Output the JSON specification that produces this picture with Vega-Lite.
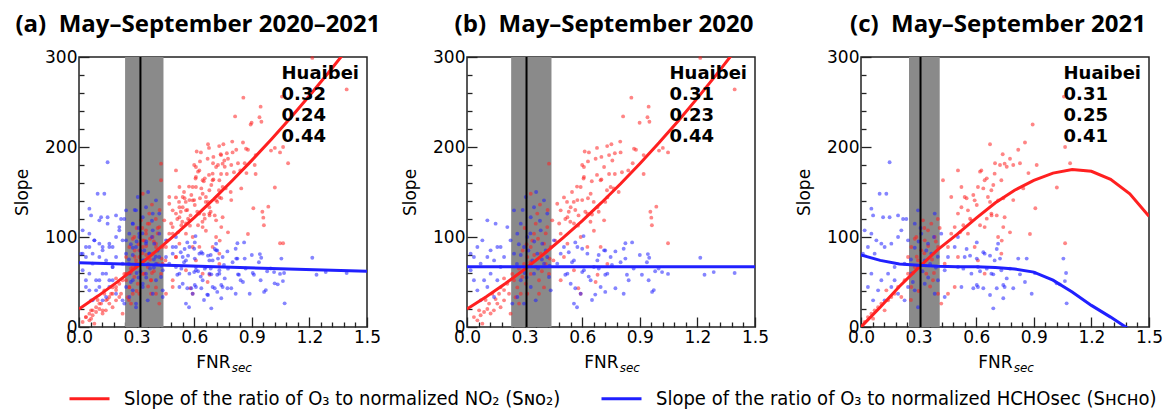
{
"$schema": "https://vega.github.io/schema/vega-lite/v6.json",
"padding": {"left": 12, "top": 12, "right": 2, "bottom": 2},
"datasets": {
"refs": [
{"p":"a","lo":0.24,"hi":0.44,"mid":0.32,"note":"Huaibei\n0.32\n0.24\n0.44"},
{"p":"b","lo":0.23,"hi":0.44,"mid":0.31,"note":"Huaibei\n0.31\n0.23\n0.44"},
{"p":"c","lo":0.25,"hi":0.41,"mid":0.31,"note":"Huaibei\n0.31\n0.25\n0.41"}
],
"fits": [
{"p":"a","s":"NO2","fnr":0,"slope":20},{"p":"a","s":"NO2","fnr":0.1,"slope":34.6},{"p":"a","s":"NO2","fnr":0.2,"slope":50.1},{"p":"a","s":"NO2","fnr":0.3,"slope":66.6},{"p":"a","s":"NO2","fnr":0.4,"slope":84},{"p":"a","s":"NO2","fnr":0.5,"slope":102.4},{"p":"a","s":"NO2","fnr":0.6,"slope":121.6},{"p":"a","s":"NO2","fnr":0.7,"slope":141.8},{"p":"a","s":"NO2","fnr":0.8,"slope":163},{"p":"a","s":"NO2","fnr":0.9,"slope":185.1},{"p":"a","s":"NO2","fnr":1.0,"slope":208.1},{"p":"a","s":"NO2","fnr":1.1,"slope":232},{"p":"a","s":"NO2","fnr":1.2,"slope":257},{"p":"a","s":"NO2","fnr":1.3,"slope":282.8},{"p":"a","s":"NO2","fnr":1.4,"slope":309.5},
{"p":"a","s":"HCHO","fnr":0,"slope":71.5},{"p":"a","s":"HCHO","fnr":0.5,"slope":68.3},{"p":"a","s":"HCHO","fnr":1.0,"slope":65.1},{"p":"a","s":"HCHO","fnr":1.5,"slope":62},
{"p":"b","s":"NO2","fnr":0,"slope":20},{"p":"b","s":"NO2","fnr":0.1,"slope":33.7},{"p":"b","s":"NO2","fnr":0.2,"slope":48.4},{"p":"b","s":"NO2","fnr":0.3,"slope":64.2},{"p":"b","s":"NO2","fnr":0.4,"slope":81.1},{"p":"b","s":"NO2","fnr":0.5,"slope":99},{"p":"b","s":"NO2","fnr":0.6,"slope":118},{"p":"b","s":"NO2","fnr":0.7,"slope":138.1},{"p":"b","s":"NO2","fnr":0.8,"slope":159.2},{"p":"b","s":"NO2","fnr":0.9,"slope":181.4},{"p":"b","s":"NO2","fnr":1.0,"slope":204.6},{"p":"b","s":"NO2","fnr":1.1,"slope":228.9},{"p":"b","s":"NO2","fnr":1.2,"slope":254.3},{"p":"b","s":"NO2","fnr":1.3,"slope":280.7},{"p":"b","s":"NO2","fnr":1.4,"slope":308.2},
{"p":"b","s":"HCHO","fnr":0,"slope":67},{"p":"b","s":"HCHO","fnr":0.75,"slope":67},{"p":"b","s":"HCHO","fnr":1.5,"slope":67},
{"p":"c","s":"NO2","fnr":0,"slope":0},{"p":"c","s":"NO2","fnr":0.1,"slope":22},{"p":"c","s":"NO2","fnr":0.2,"slope":45},{"p":"c","s":"NO2","fnr":0.3,"slope":66},{"p":"c","s":"NO2","fnr":0.4,"slope":86},{"p":"c","s":"NO2","fnr":0.5,"slope":103},{"p":"c","s":"NO2","fnr":0.6,"slope":121},{"p":"c","s":"NO2","fnr":0.7,"slope":138},{"p":"c","s":"NO2","fnr":0.8,"slope":152},{"p":"c","s":"NO2","fnr":0.9,"slope":163},{"p":"c","s":"NO2","fnr":1.0,"slope":171},{"p":"c","s":"NO2","fnr":1.1,"slope":175},{"p":"c","s":"NO2","fnr":1.2,"slope":173},{"p":"c","s":"NO2","fnr":1.3,"slope":164},{"p":"c","s":"NO2","fnr":1.4,"slope":148},{"p":"c","s":"NO2","fnr":1.5,"slope":123},
{"p":"c","s":"HCHO","fnr":0,"slope":80},{"p":"c","s":"HCHO","fnr":0.1,"slope":74},{"p":"c","s":"HCHO","fnr":0.2,"slope":70},{"p":"c","s":"HCHO","fnr":0.3,"slope":68.5},{"p":"c","s":"HCHO","fnr":0.4,"slope":67.5},{"p":"c","s":"HCHO","fnr":0.5,"slope":67},{"p":"c","s":"HCHO","fnr":0.6,"slope":67},{"p":"c","s":"HCHO","fnr":0.7,"slope":66},{"p":"c","s":"HCHO","fnr":0.8,"slope":64.5},{"p":"c","s":"HCHO","fnr":0.9,"slope":61},{"p":"c","s":"HCHO","fnr":1.0,"slope":52},{"p":"c","s":"HCHO","fnr":1.1,"slope":39},{"p":"c","s":"HCHO","fnr":1.2,"slope":24},{"p":"c","s":"HCHO","fnr":1.3,"slope":11},{"p":"c","s":"HCHO","fnr":1.4,"slope":-3}
],
"pts": [
{"yr":2020,"s":"NO2","fnr":0.054,"slope":7.4},{"yr":2020,"s":"NO2","fnr":0.071,"slope":13},{"yr":2020,"s":"NO2","fnr":0.089,"slope":16.7},{"yr":2020,"s":"NO2","fnr":0.063,"slope":18.5},{"yr":2020,"s":"NO2","fnr":0.036,"slope":11},{"yr":2020,"s":"NO2","fnr":0.106,"slope":20},{"yr":2020,"s":"NO2","fnr":0.123,"slope":15},{"yr":2020,"s":"NO2","fnr":0.08,"slope":3.7},{"yr":2020,"s":"NO2","fnr":0.14,"slope":18.5},{"yr":2020,"s":"NO2","fnr":0.158,"slope":26},{"yr":2020,"s":"NO2","fnr":0.115,"slope":26},{"yr":2020,"s":"NO2","fnr":0.097,"slope":30},{"yr":2020,"s":"NO2","fnr":0.149,"slope":31},{"yr":2020,"s":"NO2","fnr":0.167,"slope":37},{"yr":2020,"s":"NO2","fnr":0.175,"slope":44},{"yr":2020,"s":"NO2","fnr":0.193,"slope":41},{"yr":2020,"s":"NO2","fnr":0.132,"slope":37},{"yr":2020,"s":"NO2","fnr":0.21,"slope":48},{"yr":2020,"s":"NO2","fnr":0.193,"slope":54},{"yr":2020,"s":"NO2","fnr":0.193,"slope":29.6},{"yr":2020,"s":"NO2","fnr":0.219,"slope":37},{"yr":2020,"s":"NO2","fnr":0.175,"slope":22},{"yr":2020,"s":"NO2","fnr":0.227,"slope":14.8},{"yr":2020,"s":"NO2","fnr":0.28,"slope":37},{"yr":2020,"s":"NO2","fnr":0.306,"slope":48},{"yr":2020,"s":"NO2","fnr":0.332,"slope":59},{"yr":2020,"s":"NO2","fnr":0.358,"slope":66.7},{"yr":2020,"s":"NO2","fnr":0.375,"slope":51.9},{"yr":2020,"s":"NO2","fnr":0.314,"slope":37},
{"yr":2020,"s":"NO2","fnr":0.245,"slope":51.9},{"yr":2020,"s":"NO2","fnr":0.236,"slope":59},{"yr":2020,"s":"NO2","fnr":0.262,"slope":44},{"yr":2020,"s":"NO2","fnr":0.253,"slope":33},{"yr":2020,"s":"NO2","fnr":0.271,"slope":26},{"yr":2020,"s":"NO2","fnr":0.288,"slope":55.6},{"yr":2020,"s":"NO2","fnr":0.297,"slope":70},{"yr":2020,"s":"NO2","fnr":0.314,"slope":77.8},{"yr":2020,"s":"NO2","fnr":0.332,"slope":88.9},{"yr":2020,"s":"NO2","fnr":0.34,"slope":96},{"yr":2020,"s":"NO2","fnr":0.349,"slope":103.7},{"yr":2020,"s":"NO2","fnr":0.358,"slope":114.8},{"yr":2020,"s":"NO2","fnr":0.366,"slope":126},{"yr":2020,"s":"NO2","fnr":0.384,"slope":81.5},{"yr":2020,"s":"NO2","fnr":0.401,"slope":92.6},{"yr":2020,"s":"NO2","fnr":0.418,"slope":111},{"yr":2020,"s":"NO2","fnr":0.41,"slope":70},{"yr":2020,"s":"NO2","fnr":0.427,"slope":59},{"yr":2020,"s":"NO2","fnr":0.401,"slope":44},{"yr":2020,"s":"NO2","fnr":0.375,"slope":37},{"yr":2020,"s":"NO2","fnr":0.436,"slope":89},{"yr":2020,"s":"NO2","fnr":0.444,"slope":118.5},{"yr":2020,"s":"NO2","fnr":0.332,"slope":148},{"yr":2020,"s":"NO2","fnr":0.427,"slope":181.5},
{"yr":2020,"s":"NO2","fnr":0.27,"slope":65},{"yr":2020,"s":"NO2","fnr":0.29,"slope":85},{"yr":2020,"s":"NO2","fnr":0.31,"slope":92},{"yr":2020,"s":"NO2","fnr":0.33,"slope":72},{"yr":2020,"s":"NO2","fnr":0.35,"slope":80},{"yr":2020,"s":"NO2","fnr":0.37,"slope":98},{"yr":2020,"s":"NO2","fnr":0.39,"slope":62},{"yr":2020,"s":"NO2","fnr":0.41,"slope":104},{"yr":2020,"s":"NO2","fnr":0.43,"slope":76},{"yr":2020,"s":"NO2","fnr":0.3,"slope":110},{"yr":2020,"s":"NO2","fnr":0.38,"slope":136},{"yr":2020,"s":"NO2","fnr":0.42,"slope":130},{"yr":2020,"s":"NO2","fnr":0.46,"slope":96},{"yr":2020,"s":"NO2","fnr":0.48,"slope":115},{"yr":2020,"s":"NO2","fnr":0.45,"slope":74},
{"yr":2020,"s":"NO2","fnr":0.47,"slope":137},{"yr":2020,"s":"NO2","fnr":0.488,"slope":129.6},{"yr":2020,"s":"NO2","fnr":0.505,"slope":144},{"yr":2020,"s":"NO2","fnr":0.523,"slope":122},{"yr":2020,"s":"NO2","fnr":0.54,"slope":133},{"yr":2020,"s":"NO2","fnr":0.557,"slope":115},{"yr":2020,"s":"NO2","fnr":0.575,"slope":141},{"yr":2020,"s":"NO2","fnr":0.592,"slope":155.6},{"yr":2020,"s":"NO2","fnr":0.609,"slope":166.7},{"yr":2020,"s":"NO2","fnr":0.627,"slope":126},{"yr":2020,"s":"NO2","fnr":0.644,"slope":148},{"yr":2020,"s":"NO2","fnr":0.661,"slope":107},{"yr":2020,"s":"NO2","fnr":0.679,"slope":133},{"yr":2020,"s":"NO2","fnr":0.696,"slope":163},{"yr":2020,"s":"NO2","fnr":0.714,"slope":118.5},{"yr":2020,"s":"NO2","fnr":0.731,"slope":144},{"yr":2020,"s":"NO2","fnr":0.748,"slope":155.6},{"yr":2020,"s":"NO2","fnr":0.757,"slope":185},{"yr":2020,"s":"NO2","fnr":0.635,"slope":194},{"yr":2020,"s":"NO2","fnr":0.488,"slope":103.7},{"yr":2020,"s":"NO2","fnr":0.523,"slope":92.6},{"yr":2020,"s":"NO2","fnr":0.592,"slope":100},{"yr":2020,"s":"NO2","fnr":0.505,"slope":77.8},{"yr":2020,"s":"NO2","fnr":0.557,"slope":63},{"yr":2020,"s":"NO2","fnr":0.627,"slope":89},{"yr":2020,"s":"NO2","fnr":0.696,"slope":89},{"yr":2020,"s":"NO2","fnr":0.731,"slope":70},{"yr":2020,"s":"NO2","fnr":0.488,"slope":52},{"yr":2020,"s":"NO2","fnr":0.592,"slope":37},{"yr":2020,"s":"NO2","fnr":0.609,"slope":177.8},{"yr":2020,"s":"NO2","fnr":0.714,"slope":177.8},
{"yr":2020,"s":"NO2","fnr":0.856,"slope":254.8},{"yr":2020,"s":"NO2","fnr":0.946,"slope":244.8},{"yr":2020,"s":"NO2","fnr":0.813,"slope":234},{"yr":2020,"s":"NO2","fnr":0.899,"slope":227},{"yr":2020,"s":"NO2","fnr":0.95,"slope":228},{"yr":2020,"s":"NO2","fnr":0.94,"slope":233},{"yr":2020,"s":"NO2","fnr":1.215,"slope":299},{"yr":2020,"s":"NO2","fnr":1.394,"slope":264},{"yr":2020,"s":"NO2","fnr":0.677,"slope":199},{"yr":2020,"s":"NO2","fnr":0.73,"slope":201},{"yr":2020,"s":"NO2","fnr":0.752,"slope":203},{"yr":2020,"s":"NO2","fnr":0.798,"slope":206},{"yr":2020,"s":"NO2","fnr":0.613,"slope":195},{"yr":2020,"s":"NO2","fnr":0.87,"slope":198},{"yr":2020,"s":"NO2","fnr":0.88,"slope":197},{"yr":2020,"s":"NO2","fnr":1.0,"slope":196},{"yr":2020,"s":"NO2","fnr":1.02,"slope":199},{"yr":2020,"s":"NO2","fnr":1.047,"slope":194},{"yr":2020,"s":"NO2","fnr":0.92,"slope":191},{"yr":2020,"s":"NO2","fnr":0.863,"slope":182},{"yr":2020,"s":"NO2","fnr":0.8,"slope":194},{"yr":2020,"s":"NO2","fnr":0.77,"slope":193},{"yr":2020,"s":"NO2","fnr":0.74,"slope":191},{"yr":2020,"s":"NO2","fnr":0.67,"slope":187},{"yr":2020,"s":"NO2","fnr":0.7,"slope":189},{"yr":2020,"s":"NO2","fnr":0.63,"slope":184},{"yr":2020,"s":"NO2","fnr":0.6,"slope":180},{"yr":2020,"s":"NO2","fnr":0.74,"slope":170},{"yr":2020,"s":"NO2","fnr":0.77,"slope":170},{"yr":2020,"s":"NO2","fnr":0.807,"slope":172},{"yr":2020,"s":"NO2","fnr":0.84,"slope":174},{"yr":2020,"s":"NO2","fnr":0.677,"slope":169},{"yr":2020,"s":"NO2","fnr":0.7,"slope":164},{"yr":2020,"s":"NO2","fnr":0.65,"slope":162},{"yr":2020,"s":"NO2","fnr":0.92,"slope":170},{"yr":2020,"s":"NO2","fnr":0.607,"slope":165},{"yr":2020,"s":"NO2","fnr":0.573,"slope":156},{"yr":2020,"s":"NO2","fnr":0.547,"slope":150},{"yr":2020,"s":"NO2","fnr":0.521,"slope":139},{"yr":2020,"s":"NO2","fnr":0.556,"slope":139},{"yr":2020,"s":"NO2","fnr":0.6,"slope":141},{"yr":2020,"s":"NO2","fnr":0.63,"slope":143},{"yr":2020,"s":"NO2","fnr":0.66,"slope":139},{"yr":2020,"s":"NO2","fnr":0.729,"slope":152},{"yr":2020,"s":"NO2","fnr":0.764,"slope":154},{"yr":2020,"s":"NO2","fnr":0.79,"slope":150},{"yr":2020,"s":"NO2","fnr":0.72,"slope":139},{"yr":2020,"s":"NO2","fnr":0.564,"slope":130},{"yr":2020,"s":"NO2","fnr":0.53,"slope":128},{"yr":2020,"s":"NO2","fnr":0.616,"slope":128},{"yr":2020,"s":"NO2","fnr":0.581,"slope":124},{"yr":2020,"s":"NO2","fnr":0.651,"slope":125},{"yr":2020,"s":"NO2","fnr":0.686,"slope":128},{"yr":2020,"s":"NO2","fnr":0.512,"slope":120},{"yr":2020,"s":"NO2","fnr":0.538,"slope":117},{"yr":2020,"s":"NO2","fnr":0.578,"slope":112.6},{"yr":2020,"s":"NO2","fnr":0.643,"slope":117},{"yr":2020,"s":"NO2","fnr":0.96,"slope":121.5},{"yr":2020,"s":"NO2","fnr":0.963,"slope":113},{"yr":2020,"s":"NO2","fnr":0.986,"slope":133.7},{"yr":2020,"s":"NO2","fnr":0.955,"slope":128},{"yr":2020,"s":"NO2","fnr":1.047,"slope":93},{"yr":2020,"s":"NO2","fnr":0.58,"slope":43},{"yr":2020,"s":"NO2","fnr":0.67,"slope":50},{"yr":2020,"s":"NO2","fnr":0.68,"slope":58},
{"yr":2020,"s":"HCHO","fnr":0.019,"slope":63},{"yr":2020,"s":"HCHO","fnr":0.036,"slope":77.8},{"yr":2020,"s":"HCHO","fnr":0.054,"slope":88.9},{"yr":2020,"s":"HCHO","fnr":0.071,"slope":70.4},{"yr":2020,"s":"HCHO","fnr":0.08,"slope":96.3},{"yr":2020,"s":"HCHO","fnr":0.089,"slope":51.9},{"yr":2020,"s":"HCHO","fnr":0.106,"slope":77.8},{"yr":2020,"s":"HCHO","fnr":0.123,"slope":85.2},{"yr":2020,"s":"HCHO","fnr":0.123,"slope":59.3},{"yr":2020,"s":"HCHO","fnr":0.141,"slope":74},{"yr":2020,"s":"HCHO","fnr":0.149,"slope":114.8},{"yr":2020,"s":"HCHO","fnr":0.158,"slope":88.9},{"yr":2020,"s":"HCHO","fnr":0.106,"slope":118.5},{"yr":2020,"s":"HCHO","fnr":0.175,"slope":66.7},{"yr":2020,"s":"HCHO","fnr":0.193,"slope":77.8},{"yr":2020,"s":"HCHO","fnr":0.054,"slope":40.7},{"yr":2020,"s":"HCHO","fnr":0.071,"slope":29.6},{"yr":2020,"s":"HCHO","fnr":0.036,"slope":51.9},{"yr":2020,"s":"HCHO","fnr":0.019,"slope":81.5},{"yr":2020,"s":"HCHO","fnr":0.106,"slope":44.4},{"yr":2020,"s":"HCHO","fnr":0.141,"slope":33.3},{"yr":2020,"s":"HCHO","fnr":0.158,"slope":51.9},{"yr":2020,"s":"HCHO","fnr":0.175,"slope":88.9},{"yr":2020,"s":"HCHO","fnr":0.21,"slope":111},{"yr":2020,"s":"HCHO","fnr":0.227,"slope":96.3},{"yr":2020,"s":"HCHO","fnr":0.245,"slope":81.5},{"yr":2020,"s":"HCHO","fnr":0.262,"slope":103.7},{"yr":2020,"s":"HCHO","fnr":0.245,"slope":129.6},{"yr":2020,"s":"HCHO","fnr":0.28,"slope":114.8},{"yr":2020,"s":"HCHO","fnr":0.297,"slope":88.9},{"yr":2020,"s":"HCHO","fnr":0.306,"slope":144.4},{"yr":2020,"s":"HCHO","fnr":0.314,"slope":100},{"yr":2020,"s":"HCHO","fnr":0.332,"slope":122},{"yr":2020,"s":"HCHO","fnr":0.34,"slope":74},{"yr":2020,"s":"HCHO","fnr":0.349,"slope":59.3},{"yr":2020,"s":"HCHO","fnr":0.366,"slope":81.5},{"yr":2020,"s":"HCHO","fnr":0.332,"slope":44.4},{"yr":2020,"s":"HCHO","fnr":0.358,"slope":29.6},{"yr":2020,"s":"HCHO","fnr":0.384,"slope":107.4},{"yr":2020,"s":"HCHO","fnr":0.392,"slope":92.6},{"yr":2020,"s":"HCHO","fnr":0.401,"slope":70.4},{"yr":2020,"s":"HCHO","fnr":0.418,"slope":77.8},{"yr":2020,"s":"HCHO","fnr":0.427,"slope":55.6},{"yr":2020,"s":"HCHO","fnr":0.436,"slope":40.7},{"yr":2020,"s":"HCHO","fnr":0.453,"slope":96.3},{"yr":2020,"s":"HCHO","fnr":0.47,"slope":70.4},{"yr":2020,"s":"HCHO","fnr":0.488,"slope":81.5},{"yr":2020,"s":"HCHO","fnr":0.505,"slope":88.9},{"yr":2020,"s":"HCHO","fnr":0.523,"slope":59.3},{"yr":2020,"s":"HCHO","fnr":0.54,"slope":48.1},{"yr":2020,"s":"HCHO","fnr":0.557,"slope":74},{"yr":2020,"s":"HCHO","fnr":0.575,"slope":88.9},{"yr":2020,"s":"HCHO","fnr":0.592,"slope":37},{"yr":2020,"s":"HCHO","fnr":0.609,"slope":63},{"yr":2020,"s":"HCHO","fnr":0.627,"slope":81.5},{"yr":2020,"s":"HCHO","fnr":0.644,"slope":51.9},{"yr":2020,"s":"HCHO","fnr":0.661,"slope":66.7},{"yr":2020,"s":"HCHO","fnr":0.679,"slope":74},{"yr":2020,"s":"HCHO","fnr":0.696,"slope":44.4},{"yr":2020,"s":"HCHO","fnr":0.714,"slope":85.2},{"yr":2020,"s":"HCHO","fnr":0.731,"slope":59.3},{"yr":2020,"s":"HCHO","fnr":0.748,"slope":77.8},{"yr":2020,"s":"HCHO","fnr":0.418,"slope":126},{"yr":2020,"s":"HCHO","fnr":0.401,"slope":140.7},{"yr":2020,"s":"HCHO","fnr":0.349,"slope":133},{"yr":2020,"s":"HCHO","fnr":0.28,"slope":51.9},{"yr":2020,"s":"HCHO","fnr":0.262,"slope":33.3},{"yr":2020,"s":"HCHO","fnr":0.236,"slope":26},{"yr":2020,"s":"HCHO","fnr":0.297,"slope":26},{"yr":2020,"s":"HCHO","fnr":0.557,"slope":26},
{"yr":2020,"s":"HCHO","fnr":0.26,"slope":70},{"yr":2020,"s":"HCHO","fnr":0.28,"slope":80},{"yr":2020,"s":"HCHO","fnr":0.3,"slope":60},{"yr":2020,"s":"HCHO","fnr":0.32,"slope":85},{"yr":2020,"s":"HCHO","fnr":0.35,"slope":95},{"yr":2020,"s":"HCHO","fnr":0.37,"slope":65},{"yr":2020,"s":"HCHO","fnr":0.39,"slope":75},{"yr":2020,"s":"HCHO","fnr":0.41,"slope":85},{"yr":2020,"s":"HCHO","fnr":0.43,"slope":68},{"yr":2020,"s":"HCHO","fnr":0.27,"slope":92},{"yr":2020,"s":"HCHO","fnr":0.31,"slope":55},{"yr":2020,"s":"HCHO","fnr":0.33,"slope":104},{"yr":2020,"s":"HCHO","fnr":0.38,"slope":118},{"yr":2020,"s":"HCHO","fnr":0.29,"slope":130},{"yr":2020,"s":"HCHO","fnr":0.36,"slope":150},
{"yr":2020,"s":"HCHO","fnr":1.215,"slope":77},{"yr":2020,"s":"HCHO","fnr":1.237,"slope":58},{"yr":2020,"s":"HCHO","fnr":1.285,"slope":61},{"yr":2020,"s":"HCHO","fnr":1.394,"slope":60},{"yr":2020,"s":"HCHO","fnr":1.047,"slope":59},{"yr":2020,"s":"HCHO","fnr":1.016,"slope":61},{"yr":2020,"s":"HCHO","fnr":0.98,"slope":62},{"yr":2020,"s":"HCHO","fnr":0.998,"slope":65},{"yr":2020,"s":"HCHO","fnr":0.942,"slope":81},{"yr":2020,"s":"HCHO","fnr":0.949,"slope":77},{"yr":2020,"s":"HCHO","fnr":0.937,"slope":72},{"yr":2020,"s":"HCHO","fnr":0.9,"slope":80},{"yr":2020,"s":"HCHO","fnr":0.86,"slope":94},{"yr":2020,"s":"HCHO","fnr":0.816,"slope":87},{"yr":2020,"s":"HCHO","fnr":0.825,"slope":93},{"yr":2020,"s":"HCHO","fnr":0.773,"slope":84},{"yr":2020,"s":"HCHO","fnr":0.607,"slope":101},{"yr":2020,"s":"HCHO","fnr":0.564,"slope":94},{"yr":2020,"s":"HCHO","fnr":0.6,"slope":87},{"yr":2020,"s":"HCHO","fnr":0.53,"slope":83},{"yr":2020,"s":"HCHO","fnr":0.686,"slope":80},{"yr":2020,"s":"HCHO","fnr":0.72,"slope":85},{"yr":2020,"s":"HCHO","fnr":0.8,"slope":72},{"yr":2020,"s":"HCHO","fnr":0.825,"slope":76},{"yr":2020,"s":"HCHO","fnr":0.868,"slope":65},{"yr":2020,"s":"HCHO","fnr":0.946,"slope":52},{"yr":2020,"s":"HCHO","fnr":0.964,"slope":39},{"yr":2020,"s":"HCHO","fnr":0.973,"slope":41},{"yr":2020,"s":"HCHO","fnr":0.773,"slope":43},{"yr":2020,"s":"HCHO","fnr":0.816,"slope":37},{"yr":2020,"s":"HCHO","fnr":0.72,"slope":39},{"yr":2020,"s":"HCHO","fnr":0.668,"slope":36},{"yr":2020,"s":"HCHO","fnr":0.573,"slope":22},{"yr":2020,"s":"HCHO","fnr":0.651,"slope":30},{"yr":2020,"s":"HCHO","fnr":0.564,"slope":43},{"yr":2020,"s":"HCHO","fnr":0.72,"slope":58},{"yr":2020,"s":"HCHO","fnr":0.686,"slope":65},{"yr":2020,"s":"HCHO","fnr":0.755,"slope":69},{"yr":2020,"s":"HCHO","fnr":0.6,"slope":61},{"yr":2020,"s":"HCHO","fnr":0.547,"slope":72},{"yr":2020,"s":"HCHO","fnr":0.512,"slope":58},{"yr":2020,"s":"HCHO","fnr":0.634,"slope":56},{"yr":2020,"s":"HCHO","fnr":0.842,"slope":52},{"yr":2020,"s":"HCHO","fnr":0.911,"slope":58},{"yr":2020,"s":"HCHO","fnr":0.833,"slope":58},
{"yr":2021,"s":"NO2","fnr":0.019,"slope":5.6},{"yr":2021,"s":"NO2","fnr":0.036,"slope":11},{"yr":2021,"s":"NO2","fnr":0.054,"slope":14.8},{"yr":2021,"s":"NO2","fnr":0.071,"slope":18.5},{"yr":2021,"s":"NO2","fnr":0.089,"slope":22},{"yr":2021,"s":"NO2","fnr":0.063,"slope":9.3},{"yr":2021,"s":"NO2","fnr":0.106,"slope":26},{"yr":2021,"s":"NO2","fnr":0.123,"slope":18.5},{"yr":2021,"s":"NO2","fnr":0.141,"slope":29.6},{"yr":2021,"s":"NO2","fnr":0.158,"slope":33.3},{"yr":2021,"s":"NO2","fnr":0.175,"slope":37},{"yr":2021,"s":"NO2","fnr":0.132,"slope":40.7},{"yr":2021,"s":"NO2","fnr":0.193,"slope":44.4},{"yr":2021,"s":"NO2","fnr":0.21,"slope":33.3},{"yr":2021,"s":"NO2","fnr":0.227,"slope":51.9},{"yr":2021,"s":"NO2","fnr":0.245,"slope":59.3},{"yr":2021,"s":"NO2","fnr":0.262,"slope":44.4},{"yr":2021,"s":"NO2","fnr":0.28,"slope":66.7},{"yr":2021,"s":"NO2","fnr":0.297,"slope":74},{"yr":2021,"s":"NO2","fnr":0.314,"slope":85.2},{"yr":2021,"s":"NO2","fnr":0.332,"slope":96.3},{"yr":2021,"s":"NO2","fnr":0.349,"slope":107.4},{"yr":2021,"s":"NO2","fnr":0.366,"slope":114.8},{"yr":2021,"s":"NO2","fnr":0.384,"slope":100},{"yr":2021,"s":"NO2","fnr":0.401,"slope":88.9},{"yr":2021,"s":"NO2","fnr":0.262,"slope":88.9},{"yr":2021,"s":"NO2","fnr":0.245,"slope":77.8},{"yr":2021,"s":"NO2","fnr":0.288,"slope":100},{"yr":2021,"s":"NO2","fnr":0.323,"slope":118.5},{"yr":2021,"s":"NO2","fnr":0.34,"slope":59.3},{"yr":2021,"s":"NO2","fnr":0.375,"slope":51.9},{"yr":2021,"s":"NO2","fnr":0.401,"slope":37},{"yr":2021,"s":"NO2","fnr":0.436,"slope":70.4},{"yr":2021,"s":"NO2","fnr":0.453,"slope":88.9},{"yr":2021,"s":"NO2","fnr":0.47,"slope":103.7},{"yr":2021,"s":"NO2","fnr":0.488,"slope":111},{"yr":2021,"s":"NO2","fnr":0.505,"slope":126},{"yr":2021,"s":"NO2","fnr":0.523,"slope":133},{"yr":2021,"s":"NO2","fnr":0.54,"slope":144.4},{"yr":2021,"s":"NO2","fnr":0.557,"slope":129.6},{"yr":2021,"s":"NO2","fnr":0.575,"slope":118.5},{"yr":2021,"s":"NO2","fnr":0.592,"slope":140.7},{"yr":2021,"s":"NO2","fnr":0.609,"slope":155.6},{"yr":2021,"s":"NO2","fnr":0.627,"slope":174},{"yr":2021,"s":"NO2","fnr":0.644,"slope":163},{"yr":2021,"s":"NO2","fnr":0.661,"slope":144.4},{"yr":2021,"s":"NO2","fnr":0.679,"slope":151.9},{"yr":2021,"s":"NO2","fnr":0.696,"slope":170.4},{"yr":2021,"s":"NO2","fnr":0.714,"slope":140.7},{"yr":2021,"s":"NO2","fnr":0.731,"slope":163},{"yr":2021,"s":"NO2","fnr":0.748,"slope":181.5},{"yr":2021,"s":"NO2","fnr":0.505,"slope":174},{"yr":2021,"s":"NO2","fnr":0.523,"slope":155.6},{"yr":2021,"s":"NO2","fnr":0.427,"slope":163},{"yr":2021,"s":"NO2","fnr":0.47,"slope":144.4},{"yr":2021,"s":"NO2","fnr":0.557,"slope":103.7},{"yr":2021,"s":"NO2","fnr":0.592,"slope":88.9},{"yr":2021,"s":"NO2","fnr":0.644,"slope":111},{"yr":2021,"s":"NO2","fnr":0.679,"slope":126},{"yr":2021,"s":"NO2","fnr":0.714,"slope":100},{"yr":2021,"s":"NO2","fnr":0.748,"slope":122},{"yr":2021,"s":"NO2","fnr":0.609,"slope":74},{"yr":2021,"s":"NO2","fnr":0.731,"slope":81.5},{"yr":2021,"s":"NO2","fnr":0.644,"slope":59.3},{"yr":2021,"s":"NO2","fnr":0.505,"slope":77.8},{"yr":2021,"s":"NO2","fnr":0.488,"slope":44.4},{"yr":2021,"s":"NO2","fnr":0.418,"slope":26},{"yr":2021,"s":"NO2","fnr":0.453,"slope":37},
{"yr":2021,"s":"NO2","fnr":0.27,"slope":60},{"yr":2021,"s":"NO2","fnr":0.29,"slope":78},{"yr":2021,"s":"NO2","fnr":0.31,"slope":70},{"yr":2021,"s":"NO2","fnr":0.33,"slope":82},{"yr":2021,"s":"NO2","fnr":0.35,"slope":90},{"yr":2021,"s":"NO2","fnr":0.37,"slope":75},{"yr":2021,"s":"NO2","fnr":0.39,"slope":95},{"yr":2021,"s":"NO2","fnr":0.41,"slope":110},{"yr":2021,"s":"NO2","fnr":0.3,"slope":40},{"yr":2021,"s":"NO2","fnr":0.36,"slope":45},{"yr":2021,"s":"NO2","fnr":0.26,"slope":30},{"yr":2021,"s":"NO2","fnr":0.33,"slope":110},{"yr":2021,"s":"NO2","fnr":0.28,"slope":98},{"yr":2021,"s":"NO2","fnr":0.4,"slope":120},{"yr":2021,"s":"NO2","fnr":0.38,"slope":60},
{"yr":2021,"s":"NO2","fnr":0.894,"slope":225},{"yr":2021,"s":"NO2","fnr":0.672,"slope":203},{"yr":2021,"s":"NO2","fnr":0.854,"slope":205},{"yr":2021,"s":"NO2","fnr":0.738,"slope":192},{"yr":2021,"s":"NO2","fnr":0.819,"slope":197},{"yr":2021,"s":"NO2","fnr":0.698,"slope":182},{"yr":2021,"s":"NO2","fnr":0.724,"slope":180},{"yr":2021,"s":"NO2","fnr":0.759,"slope":178},{"yr":2021,"s":"NO2","fnr":0.776,"slope":187},{"yr":2021,"s":"NO2","fnr":0.793,"slope":180},{"yr":2021,"s":"NO2","fnr":0.828,"slope":182},{"yr":2021,"s":"NO2","fnr":0.872,"slope":171},{"yr":2021,"s":"NO2","fnr":0.915,"slope":180},{"yr":2021,"s":"NO2","fnr":1.089,"slope":182},{"yr":2021,"s":"NO2","fnr":1.057,"slope":256},{"yr":2021,"s":"NO2","fnr":1.063,"slope":200},{"yr":2021,"s":"NO2","fnr":1.02,"slope":155},{"yr":2021,"s":"NO2","fnr":0.908,"slope":132},{"yr":2021,"s":"NO2","fnr":0.62,"slope":172.6},{"yr":2021,"s":"NO2","fnr":0.655,"slope":165.2},{"yr":2021,"s":"NO2","fnr":0.689,"slope":157.8},{"yr":2021,"s":"NO2","fnr":0.637,"slope":154},{"yr":2021,"s":"NO2","fnr":0.585,"slope":146.7},{"yr":2021,"s":"NO2","fnr":0.55,"slope":143},{"yr":2021,"s":"NO2","fnr":0.603,"slope":135.6},{"yr":2021,"s":"NO2","fnr":0.672,"slope":139},{"yr":2021,"s":"NO2","fnr":0.741,"slope":143},{"yr":2021,"s":"NO2","fnr":0.793,"slope":141},{"yr":2021,"s":"NO2","fnr":0.845,"slope":154},{"yr":2021,"s":"NO2","fnr":0.707,"slope":124},{"yr":2021,"s":"NO2","fnr":0.655,"slope":120.4},{"yr":2021,"s":"NO2","fnr":0.568,"slope":120.4},{"yr":2021,"s":"NO2","fnr":0.62,"slope":113},{"yr":2021,"s":"NO2","fnr":0.741,"slope":111},{"yr":2021,"s":"NO2","fnr":0.776,"slope":105.2},{"yr":2021,"s":"NO2","fnr":0.88,"slope":103.4},{"yr":2021,"s":"NO2","fnr":0.733,"slope":96},{"yr":2021,"s":"NO2","fnr":0.68,"slope":124},{"yr":2021,"s":"NO2","fnr":0.533,"slope":113},{"yr":2021,"s":"NO2","fnr":0.516,"slope":105.2},{"yr":2021,"s":"NO2","fnr":1.063,"slope":93},
{"yr":2021,"s":"HCHO","fnr":0.149,"slope":183},{"yr":2021,"s":"HCHO","fnr":0.097,"slope":148},{"yr":2021,"s":"HCHO","fnr":0.132,"slope":148},{"yr":2021,"s":"HCHO","fnr":0.054,"slope":131.5},{"yr":2021,"s":"HCHO","fnr":0.063,"slope":124},{"yr":2021,"s":"HCHO","fnr":0.115,"slope":122},{"yr":2021,"s":"HCHO","fnr":0.149,"slope":122},{"yr":2021,"s":"HCHO","fnr":0.193,"slope":124},{"yr":2021,"s":"HCHO","fnr":0.219,"slope":120},{"yr":2021,"s":"HCHO","fnr":0.236,"slope":120},
{"yr":2021,"s":"HCHO","fnr":0.019,"slope":107.4},{"yr":2021,"s":"HCHO","fnr":0.054,"slope":103.7},{"yr":2021,"s":"HCHO","fnr":0.08,"slope":96.3},{"yr":2021,"s":"HCHO","fnr":0.106,"slope":92.6},{"yr":2021,"s":"HCHO","fnr":0.036,"slope":88.9},{"yr":2021,"s":"HCHO","fnr":0.01,"slope":81.5},{"yr":2021,"s":"HCHO","fnr":0.071,"slope":81.5},{"yr":2021,"s":"HCHO","fnr":0.123,"slope":88.9},{"yr":2021,"s":"HCHO","fnr":0.158,"slope":92.6},{"yr":2021,"s":"HCHO","fnr":0.193,"slope":100},{"yr":2021,"s":"HCHO","fnr":0.21,"slope":107.4},{"yr":2021,"s":"HCHO","fnr":0.245,"slope":96.3},{"yr":2021,"s":"HCHO","fnr":0.28,"slope":114.8},{"yr":2021,"s":"HCHO","fnr":0.297,"slope":129.6},{"yr":2021,"s":"HCHO","fnr":0.314,"slope":103.7},{"yr":2021,"s":"HCHO","fnr":0.349,"slope":92.6},{"yr":2021,"s":"HCHO","fnr":0.366,"slope":81.5},{"yr":2021,"s":"HCHO","fnr":0.332,"slope":74},{"yr":2021,"s":"HCHO","fnr":0.297,"slope":66.7},{"yr":2021,"s":"HCHO","fnr":0.262,"slope":59.3},{"yr":2021,"s":"HCHO","fnr":0.227,"slope":70.4},{"yr":2021,"s":"HCHO","fnr":0.175,"slope":66.7},{"yr":2021,"s":"HCHO","fnr":0.141,"slope":59.3},{"yr":2021,"s":"HCHO","fnr":0.106,"slope":51.9},{"yr":2021,"s":"HCHO","fnr":0.054,"slope":59.3},{"yr":2021,"s":"HCHO","fnr":0.036,"slope":44.4},{"yr":2021,"s":"HCHO","fnr":0.089,"slope":40.7},{"yr":2021,"s":"HCHO","fnr":0.158,"slope":44.4},{"yr":2021,"s":"HCHO","fnr":0.193,"slope":37},{"yr":2021,"s":"HCHO","fnr":0.227,"slope":29.6},{"yr":2021,"s":"HCHO","fnr":0.28,"slope":40.7},{"yr":2021,"s":"HCHO","fnr":0.332,"slope":48.1},{"yr":2021,"s":"HCHO","fnr":0.384,"slope":37},{"yr":2021,"s":"HCHO","fnr":0.401,"slope":51.9},{"yr":2021,"s":"HCHO","fnr":0.436,"slope":63},{"yr":2021,"s":"HCHO","fnr":0.453,"slope":77.8},{"yr":2021,"s":"HCHO","fnr":0.488,"slope":88.9},{"yr":2021,"s":"HCHO","fnr":0.505,"slope":66.7},{"yr":2021,"s":"HCHO","fnr":0.523,"slope":44.4},{"yr":2021,"s":"HCHO","fnr":0.54,"slope":77.8},{"yr":2021,"s":"HCHO","fnr":0.575,"slope":59.3},{"yr":2021,"s":"HCHO","fnr":0.609,"slope":66.7},{"yr":2021,"s":"HCHO","fnr":0.644,"slope":81.5},{"yr":2021,"s":"HCHO","fnr":0.679,"slope":59.3},{"yr":2021,"s":"HCHO","fnr":0.696,"slope":74},{"yr":2021,"s":"HCHO","fnr":0.731,"slope":63},{"yr":2021,"s":"HCHO","fnr":0.748,"slope":44.4},{"yr":2021,"s":"HCHO","fnr":0.714,"slope":92.6},{"yr":2021,"s":"HCHO","fnr":0.609,"slope":44.4},{"yr":2021,"s":"HCHO","fnr":0.505,"slope":100},{"yr":2021,"s":"HCHO","fnr":0.384,"slope":126},{"yr":2021,"s":"HCHO","fnr":0.418,"slope":103.7},{"yr":2021,"s":"HCHO","fnr":0.063,"slope":29.6},{"yr":2021,"s":"HCHO","fnr":0.123,"slope":29.6},{"yr":2021,"s":"HCHO","fnr":0.175,"slope":51.9},{"yr":2021,"s":"HCHO","fnr":0.245,"slope":44.4},{"yr":2021,"s":"HCHO","fnr":0.297,"slope":22},{"yr":2021,"s":"HCHO","fnr":0.436,"slope":33.3},
{"yr":2021,"s":"HCHO","fnr":0.26,"slope":75},{"yr":2021,"s":"HCHO","fnr":0.28,"slope":88},{"yr":2021,"s":"HCHO","fnr":0.3,"slope":95},{"yr":2021,"s":"HCHO","fnr":0.32,"slope":62},{"yr":2021,"s":"HCHO","fnr":0.34,"slope":85},{"yr":2021,"s":"HCHO","fnr":0.36,"slope":70},{"yr":2021,"s":"HCHO","fnr":0.38,"slope":100},{"yr":2021,"s":"HCHO","fnr":0.4,"slope":78},{"yr":2021,"s":"HCHO","fnr":0.27,"slope":50},{"yr":2021,"s":"HCHO","fnr":0.31,"slope":110},{"yr":2021,"s":"HCHO","fnr":0.35,"slope":55},{"yr":2021,"s":"HCHO","fnr":0.39,"slope":66},
{"yr":2021,"s":"HCHO","fnr":1.054,"slope":76},{"yr":2021,"s":"HCHO","fnr":1.068,"slope":60},{"yr":2021,"s":"HCHO","fnr":1.062,"slope":51},{"yr":2021,"s":"HCHO","fnr":1.071,"slope":26.3},{"yr":2021,"s":"HCHO","fnr":1.035,"slope":47.4},{"yr":2021,"s":"HCHO","fnr":1.019,"slope":48.5},{"yr":2021,"s":"HCHO","fnr":0.905,"slope":60},{"yr":2021,"s":"HCHO","fnr":0.889,"slope":37},{"yr":2021,"s":"HCHO","fnr":0.854,"slope":50},{"yr":2021,"s":"HCHO","fnr":0.819,"slope":76},{"yr":2021,"s":"HCHO","fnr":0.776,"slope":64.8},{"yr":2021,"s":"HCHO","fnr":0.741,"slope":46.7},{"yr":2021,"s":"HCHO","fnr":0.741,"slope":31.9},{"yr":2021,"s":"HCHO","fnr":0.707,"slope":43},{"yr":2021,"s":"HCHO","fnr":0.689,"slope":58.5},{"yr":2021,"s":"HCHO","fnr":0.655,"slope":64.8},{"yr":2021,"s":"HCHO","fnr":0.62,"slope":62},{"yr":2021,"s":"HCHO","fnr":0.603,"slope":76},{"yr":2021,"s":"HCHO","fnr":0.585,"slope":43},{"yr":2021,"s":"HCHO","fnr":0.568,"slope":79.3},{"yr":2021,"s":"HCHO","fnr":0.533,"slope":64.8},{"yr":2021,"s":"HCHO","fnr":0.637,"slope":83},{"yr":2021,"s":"HCHO","fnr":0.672,"slope":79.3},{"yr":2021,"s":"HCHO","fnr":0.724,"slope":76},{"yr":2021,"s":"HCHO","fnr":0.759,"slope":54},{"yr":2021,"s":"HCHO","fnr":0.793,"slope":43},{"yr":2021,"s":"HCHO","fnr":0.863,"slope":76},{"yr":2021,"s":"HCHO","fnr":0.828,"slope":58.5},{"yr":2021,"s":"HCHO","fnr":0.707,"slope":86.7},{"yr":2021,"s":"HCHO","fnr":0.603,"slope":94},{"yr":2021,"s":"HCHO","fnr":0.55,"slope":86.7},{"yr":2021,"s":"HCHO","fnr":0.637,"slope":43},{"yr":2021,"s":"HCHO","fnr":0.672,"slope":35.6},{"yr":2021,"s":"HCHO","fnr":0.689,"slope":20.7},{"yr":2021,"s":"HCHO","fnr":0.603,"slope":46.7}
]
},
"spacing": 18,
"resolve": {"scale": {"color": "shared"}, "legend": {"color": "shared"}},
"hconcat": [
{
"width": 288, "height": 270,
"title": {"text": "(a)\u00a0 May–September 2020–2021", "dx": -25},
"layer": [
{"data": {"name": "refs"}, "transform": [{"filter": "datum.p == 'a'"}],
 "mark": {"type": "rect", "color": "#8a8a8a"},
 "encoding": {"x": {"field": "lo", "type": "quantitative", "scale": {"domain": [0, 1.5], "nice": false}, "title": "FNR",
   "axis": {"values": [0,0.06,0.12,0.18,0.24,0.3,0.36,0.42,0.48,0.54,0.6,0.66,0.72,0.78,0.84,0.9,0.96,1.02,1.08,1.14,1.2,1.26,1.32,1.38,1.44,1.5],
     "tickCount": 100,
     "labelExpr": "round(datum.value*100) % 30 == 0 ? format(datum.value, '.1f') : ''",
     "labelOverlap": false, "labelSeparation": -200, "labelFlush": false,
     "tickSize": {"condition": {"test": "round(datum.value*100) % 30 == 0", "value": -10}, "value": -5},
     "labelPadding": 12, "titleX": 134, "titlePadding": 4}},
   "x2": {"field": "hi"}}},
{"data": {"name": "pts"}, "transform": [{"filter": "datum.s == 'NO2'"}],
 "mark": {"type": "circle", "size": 15, "color": "#ff2020", "opacity": 0.55},
 "encoding": {"x": {"field": "fnr", "type": "quantitative", "scale": {"domain": [0, 1.5], "nice": false}, "title": "FNR"},
   "y": {"field": "slope", "type": "quantitative", "scale": {"domain": [0, 300], "nice": false}, "title": "Slope",
     "axis": {"values": [0,20,40,60,80,100,120,140,160,180,200,220,240,260,280,300],
       "tickCount": 100,
       "labelExpr": "datum.value % 100 == 0 ? datum.label : ''",
       "labelOverlap": false, "labelSeparation": -200, "labelFlush": false,
       "tickSize": {"condition": {"test": "datum.value % 100 == 0", "value": -10}, "value": -5},
       "labelPadding": 12, "titlePadding": 13}}}},
{"data": {"name": "pts"}, "transform": [{"filter": "datum.s == 'HCHO'"}],
 "mark": {"type": "circle", "size": 15, "color": "#2020ff", "opacity": 0.55},
 "encoding": {"x": {"field": "fnr", "type": "quantitative", "scale": {"domain": [0, 1.5], "nice": false}, "title": "FNR"},
   "y": {"field": "slope", "type": "quantitative", "scale": {"domain": [0, 300], "nice": false}, "title": "Slope"}}},
{"data": {"name": "fits"}, "transform": [{"filter": "datum.p == 'a'"}],
 "mark": {"type": "line", "clip": true, "strokeWidth": 3},
 "encoding": {"x": {"field": "fnr", "type": "quantitative", "scale": {"domain": [0, 1.5], "nice": false}, "title": "FNR"},
   "y": {"field": "slope", "type": "quantitative", "scale": {"domain": [0, 300], "nice": false}, "title": "Slope"},
   "color": {"field": "s", "type": "nominal", "scale": {"domain": ["NO2", "HCHO"], "range": ["#ff2020", "#2020ff"]},
     "legend": {"orient": "none", "legendX": -11, "legendY": 320, "direction": "horizontal", "title": null,
       "labelExpr": "datum.value == 'NO2' ? 'Slope of the ratio of O₃ to normalized NO₂ (Sɴᴏ₂)' : 'Slope of the ratio of O₃ to normalized HCHOsec (Sʜᴄʜᴏ)'"}}}},
{"data": {"name": "refs"}, "transform": [{"filter": "datum.p == 'a'"}],
 "mark": {"type": "rule", "color": "black", "strokeWidth": 2},
 "encoding": {"x": {"field": "mid", "type": "quantitative", "scale": {"domain": [0, 1.5], "nice": false}, "title": "FNR"}}},
{"data": {"name": "refs"}, "transform": [{"filter": "datum.p == 'a'"}],
 "mark": {"type": "text", "align": "left", "baseline": "middle", "font": "DejaVu Sans", "fontWeight": "bold", "fontSize": 18, "lineHeight": 21, "lineBreak": "\n", "color": "black"},
 "encoding": {"x": {"datum": 1.055, "type": "quantitative", "scale": {"domain": [0, 1.5], "nice": false}, "title": "FNR"}, "y": {"datum": 281, "type": "quantitative", "scale": {"domain": [0, 300], "nice": false}, "title": "Slope"}, "text": {"field": "note"}}},
{"data": {"name": "refs"}, "transform": [{"filter": "datum.p == 'a'"}],
 "mark": {"type": "text", "text": "sec", "align": "left", "baseline": "alphabetic", "font": "DejaVu Sans", "fontStyle": "italic", "fontSize": 12, "color": "black"},
 "encoding": {"x": {"datum": 0.795, "type": "quantitative", "scale": {"domain": [0, 1.5], "nice": false}, "title": "FNR"}, "y": {"datum": -50, "type": "quantitative", "scale": {"domain": [0, 300], "nice": false}, "title": "Slope"}}}
]
},
{
"spacing": 24,
"resolve": {"scale": {"color": "shared"}, "legend": {"color": "shared"}},
"hconcat": [
{
"width": 288, "height": 270,
"title": {"text": "(b)\u00a0 May–September 2020", "dx": -7},
"layer": [
{"data": {"name": "refs"}, "transform": [{"filter": "datum.p == 'b'"}],
 "mark": {"type": "rect", "color": "#8a8a8a"},
 "encoding": {"x": {"field": "lo", "type": "quantitative", "scale": {"domain": [0, 1.5], "nice": false}, "title": "FNR",
   "axis": {"values": [0,0.06,0.12,0.18,0.24,0.3,0.36,0.42,0.48,0.54,0.6,0.66,0.72,0.78,0.84,0.9,0.96,1.02,1.08,1.14,1.2,1.26,1.32,1.38,1.44,1.5],
     "tickCount": 100,
     "labelExpr": "round(datum.value*100) % 30 == 0 ? format(datum.value, '.1f') : ''",
     "labelOverlap": false, "labelSeparation": -200, "labelFlush": false,
     "tickSize": {"condition": {"test": "round(datum.value*100) % 30 == 0", "value": -10}, "value": -5},
     "labelPadding": 12, "titleX": 134, "titlePadding": 4}},
   "x2": {"field": "hi"}}},
{"data": {"name": "pts"}, "transform": [{"filter": "datum.s == 'NO2' && datum.yr == 2020"}],
 "mark": {"type": "circle", "size": 15, "color": "#ff2020", "opacity": 0.55},
 "encoding": {"x": {"field": "fnr", "type": "quantitative", "scale": {"domain": [0, 1.5], "nice": false}, "title": "FNR"},
   "y": {"field": "slope", "type": "quantitative", "scale": {"domain": [0, 300], "nice": false}, "title": "Slope",
     "axis": {"values": [0,20,40,60,80,100,120,140,160,180,200,220,240,260,280,300],
       "tickCount": 100,
       "labelExpr": "datum.value % 100 == 0 ? datum.label : ''",
       "labelOverlap": false, "labelSeparation": -200, "labelFlush": false,
       "tickSize": {"condition": {"test": "datum.value % 100 == 0", "value": -10}, "value": -5},
       "labelPadding": 12, "titlePadding": 13}}}},
{"data": {"name": "pts"}, "transform": [{"filter": "datum.s == 'HCHO' && datum.yr == 2020"}],
 "mark": {"type": "circle", "size": 15, "color": "#2020ff", "opacity": 0.55},
 "encoding": {"x": {"field": "fnr", "type": "quantitative", "scale": {"domain": [0, 1.5], "nice": false}, "title": "FNR"},
   "y": {"field": "slope", "type": "quantitative", "scale": {"domain": [0, 300], "nice": false}, "title": "Slope"}}},
{"data": {"name": "fits"}, "transform": [{"filter": "datum.p == 'b'"}],
 "mark": {"type": "line", "clip": true, "strokeWidth": 3},
 "encoding": {"x": {"field": "fnr", "type": "quantitative", "scale": {"domain": [0, 1.5], "nice": false}, "title": "FNR"},
   "y": {"field": "slope", "type": "quantitative", "scale": {"domain": [0, 300], "nice": false}, "title": "Slope"},
   "color": {"field": "s", "type": "nominal", "scale": {"domain": ["NO2", "HCHO"], "range": ["#ff2020", "#2020ff"]}}}},
{"data": {"name": "refs"}, "transform": [{"filter": "datum.p == 'b'"}],
 "mark": {"type": "rule", "color": "black", "strokeWidth": 2},
 "encoding": {"x": {"field": "mid", "type": "quantitative", "scale": {"domain": [0, 1.5], "nice": false}, "title": "FNR"}}},
{"data": {"name": "refs"}, "transform": [{"filter": "datum.p == 'b'"}],
 "mark": {"type": "text", "align": "left", "baseline": "middle", "font": "DejaVu Sans", "fontWeight": "bold", "fontSize": 18, "lineHeight": 21, "lineBreak": "\n", "color": "black"},
 "encoding": {"x": {"datum": 1.055, "type": "quantitative", "scale": {"domain": [0, 1.5], "nice": false}, "title": "FNR"}, "y": {"datum": 281, "type": "quantitative", "scale": {"domain": [0, 300], "nice": false}, "title": "Slope"}, "text": {"field": "note"}}},
{"data": {"name": "refs"}, "transform": [{"filter": "datum.p == 'b'"}],
 "mark": {"type": "text", "text": "sec", "align": "left", "baseline": "alphabetic", "font": "DejaVu Sans", "fontStyle": "italic", "fontSize": 12, "color": "black"},
 "encoding": {"x": {"datum": 0.795, "type": "quantitative", "scale": {"domain": [0, 1.5], "nice": false}, "title": "FNR"}, "y": {"datum": -50, "type": "quantitative", "scale": {"domain": [0, 300], "nice": false}, "title": "Slope"}}}
]
},
{
"width": 288, "height": 270,
"title": {"text": "(c)\u00a0 May–September 2021", "dx": -7},
"layer": [
{"data": {"name": "refs"}, "transform": [{"filter": "datum.p == 'c'"}],
 "mark": {"type": "rect", "color": "#8a8a8a"},
 "encoding": {"x": {"field": "lo", "type": "quantitative", "scale": {"domain": [0, 1.5], "nice": false}, "title": "FNR",
   "axis": {"values": [0,0.06,0.12,0.18,0.24,0.3,0.36,0.42,0.48,0.54,0.6,0.66,0.72,0.78,0.84,0.9,0.96,1.02,1.08,1.14,1.2,1.26,1.32,1.38,1.44,1.5],
     "tickCount": 100,
     "labelExpr": "round(datum.value*100) % 30 == 0 ? format(datum.value, '.1f') : ''",
     "labelOverlap": false, "labelSeparation": -200, "labelFlush": false,
     "tickSize": {"condition": {"test": "round(datum.value*100) % 30 == 0", "value": -10}, "value": -5},
     "labelPadding": 12, "titleX": 134, "titlePadding": 4}},
   "x2": {"field": "hi"}}},
{"data": {"name": "pts"}, "transform": [{"filter": "datum.s == 'NO2' && datum.yr == 2021"}],
 "mark": {"type": "circle", "size": 15, "color": "#ff2020", "opacity": 0.55},
 "encoding": {"x": {"field": "fnr", "type": "quantitative", "scale": {"domain": [0, 1.5], "nice": false}, "title": "FNR"},
   "y": {"field": "slope", "type": "quantitative", "scale": {"domain": [0, 300], "nice": false}, "title": "Slope",
     "axis": {"values": [0,20,40,60,80,100,120,140,160,180,200,220,240,260,280,300],
       "tickCount": 100,
       "labelExpr": "datum.value % 100 == 0 ? datum.label : ''",
       "labelOverlap": false, "labelSeparation": -200, "labelFlush": false,
       "tickSize": {"condition": {"test": "datum.value % 100 == 0", "value": -10}, "value": -5},
       "labelPadding": 12, "titlePadding": 13}}}},
{"data": {"name": "pts"}, "transform": [{"filter": "datum.s == 'HCHO' && datum.yr == 2021"}],
 "mark": {"type": "circle", "size": 15, "color": "#2020ff", "opacity": 0.55},
 "encoding": {"x": {"field": "fnr", "type": "quantitative", "scale": {"domain": [0, 1.5], "nice": false}, "title": "FNR"},
   "y": {"field": "slope", "type": "quantitative", "scale": {"domain": [0, 300], "nice": false}, "title": "Slope"}}},
{"data": {"name": "fits"}, "transform": [{"filter": "datum.p == 'c'"}],
 "mark": {"type": "line", "clip": true, "strokeWidth": 3},
 "encoding": {"x": {"field": "fnr", "type": "quantitative", "scale": {"domain": [0, 1.5], "nice": false}, "title": "FNR"},
   "y": {"field": "slope", "type": "quantitative", "scale": {"domain": [0, 300], "nice": false}, "title": "Slope"},
   "color": {"field": "s", "type": "nominal", "scale": {"domain": ["NO2", "HCHO"], "range": ["#ff2020", "#2020ff"]}}}},
{"data": {"name": "refs"}, "transform": [{"filter": "datum.p == 'c'"}],
 "mark": {"type": "rule", "color": "black", "strokeWidth": 2},
 "encoding": {"x": {"field": "mid", "type": "quantitative", "scale": {"domain": [0, 1.5], "nice": false}, "title": "FNR"}}},
{"data": {"name": "refs"}, "transform": [{"filter": "datum.p == 'c'"}],
 "mark": {"type": "text", "align": "left", "baseline": "middle", "font": "DejaVu Sans", "fontWeight": "bold", "fontSize": 18, "lineHeight": 21, "lineBreak": "\n", "color": "black"},
 "encoding": {"x": {"datum": 1.055, "type": "quantitative", "scale": {"domain": [0, 1.5], "nice": false}, "title": "FNR"}, "y": {"datum": 281, "type": "quantitative", "scale": {"domain": [0, 300], "nice": false}, "title": "Slope"}, "text": {"field": "note"}}},
{"data": {"name": "refs"}, "transform": [{"filter": "datum.p == 'c'"}],
 "mark": {"type": "text", "text": "sec", "align": "left", "baseline": "alphabetic", "font": "DejaVu Sans", "fontStyle": "italic", "fontSize": 12, "color": "black"},
 "encoding": {"x": {"datum": 0.795, "type": "quantitative", "scale": {"domain": [0, 1.5], "nice": false}, "title": "FNR"}, "y": {"datum": -50, "type": "quantitative", "scale": {"domain": [0, 300], "nice": false}, "title": "Slope"}}}
]
}
]
}
],
"config": {
 "font": "DejaVu Sans",
 "view": {"stroke": "#222222", "strokeWidth": 1.5},
 "axis": {"domain": false, "grid": false, "labelFont": "DejaVu Sans", "labelFontSize": 17, "labelColor": "black", "titleFont": "DejaVu Sans", "titleFontSize": 17, "titleFontWeight": "normal", "titleColor": "black", "tickColor": "#222222", "tickWidth": 1.3, "labelOverlap": false, "labelFlush": false},
 "title": {"font": "Open Sans", "fontSize": 24, "fontWeight": "bold", "color": "black", "anchor": "middle", "frame": "group", "offset": 11},
 "legend": {"symbolType": "stroke", "symbolSize": 1600, "symbolStrokeWidth": 3, "labelFont": "DejaVu Sans Condensed", "labelFontSize": 20, "labelColor": "black", "labelLimit": 0, "labelOffset": 13, "columnPadding": 34}
}
}
